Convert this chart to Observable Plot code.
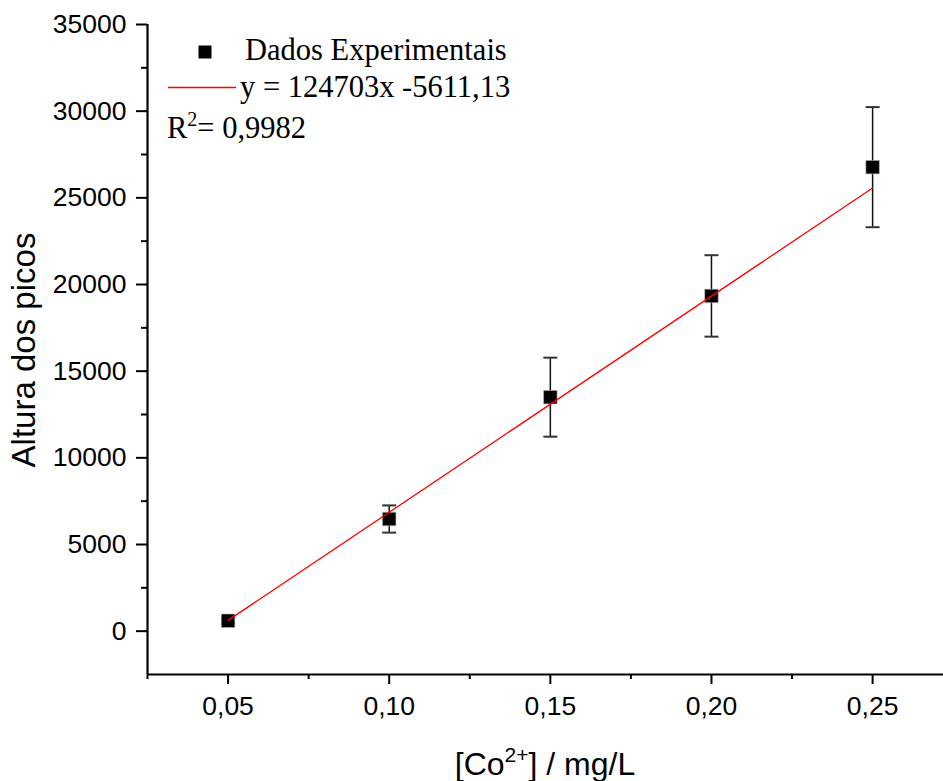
<!DOCTYPE html>
<html>
<head>
<meta charset="utf-8">
<script src="https://cdn.jsdelivr.net/npm/d3@7"></script>
<script src="https://cdn.jsdelivr.net/npm/@observablehq/plot@0.6"></script>
<style>
  html, body { margin: 0; padding: 0; background: #fff; }
  #chart svg { display: block; }
</style>
</head>
<body>
<div id="chart"></div>
<script>
// Data
const conc = [0.05, 0.10, 0.15, 0.20, 0.25];
const peakHeight = [600, 6470, 13500, 19340, 26770];
const peakError = [150, 785, 2280, 2350, 3465];
const fitX = [0.05, 0.25];
const fitY = [623, 25565];
const xTicks = [0.05, 0.10, 0.15, 0.20, 0.25];
const xMinorTicks = [0.025, 0.075, 0.125, 0.175, 0.225];
const yTicks = [0, 5000, 10000, 15000, 20000, 25000, 30000, 35000];
const yMinorTicks = [2500, 7500, 12500, 17500, 22500, 27500, 32500];
const legendLabel = "Dados Experimentais";
const fitLabel = "y = 124703x -5611,13";
const r2Label = "0,9982";

const data = conc.map((c, i) => ({x: c, y: peakHeight[i], lo: peakHeight[i] - peakError[i], hi: peakHeight[i] + peakError[i]}));
const fit = fitX.map((x, i) => ({x, y: fitY[i]}));

const capSymbol = { draw(ctx) { ctx.moveTo(-7, 0); ctx.lineTo(7, 0); } };
const squareSymbol = { draw(ctx) { ctx.rect(-6.75, -6.75, 13.5, 13.5); } };

const chart = Plot.plot({
  width: 943,
  height: 781,
  marginLeft: 147,
  marginRight: 0,
  marginTop: 24,
  marginBottom: 107,
  style: {fontFamily: "'Liberation Sans', Arial, sans-serif", fontSize: "26.5px", background: "#fff", color: "#000"},
  x: {domain: [0.025, 0.272]},
  y: {domain: [-2500, 35000]},
  marks: [
    Plot.axisX({ticks: xTicks, tickSize: 10, tickPadding: 12, strokeWidth: 2, fontSize: 26.5,
      tickFormat: d => d.toFixed(2).replace(".", ","), label: null}),
    Plot.axisX({ticks: xMinorTicks, tickSize: 5, strokeWidth: 2, tickFormat: () => "", label: null}),
    Plot.axisY({ticks: yTicks, tickSize: 11, tickPadding: 10, strokeWidth: 2, fontSize: 26.5,
      tickFormat: d => String(d), label: null}),
    Plot.axisY({ticks: yMinorTicks, tickSize: 6, strokeWidth: 2, tickFormat: () => "", label: null}),
    Plot.ruleY([-2500], {stroke: "#000", strokeWidth: 2.2}),
    Plot.ruleX([0.025], {stroke: "#000", strokeWidth: 2.2}),
    Plot.ruleX(data, {x: "x", y1: "lo", y2: "hi", stroke: "#111", strokeWidth: 1.5}),
    Plot.dot(data, {x: "x", y: "hi", symbol: capSymbol, stroke: "#333", strokeWidth: 2, fill: "none"}),
    Plot.dot(data, {x: "x", y: "lo", symbol: capSymbol, stroke: "#333", strokeWidth: 2, fill: "none"}),
    Plot.dot(data, {x: "x", y: "y", symbol: squareSymbol, fill: "#000", stroke: "#bbb", strokeWidth: 0.6}),
    Plot.line(fit, {x: "x", y: "y", stroke: "#ff0000", strokeWidth: 1.3})
  ]
});

document.getElementById("chart").appendChild(chart);

const svg = d3.select(chart);
// Legend
const lg = svg.append("g").attr("font-family", "'Liberation Serif', 'Times New Roman', serif")
  .attr("font-size", 30.5).attr("fill", "#000").attr("text-anchor", "start");
lg.append("rect").attr("x", 198.5).attr("y", 45.5).attr("width", 13).attr("height", 13).attr("fill", "#000");
lg.append("text").attr("x", 245).attr("y", 60).text(legendLabel);
lg.append("line").attr("x1", 168).attr("x2", 236).attr("y1", 87.5).attr("y2", 87.5).attr("stroke", "#ff0000").attr("stroke-width", 1.3);
lg.append("text").attr("x", 240).attr("y", 97).text(fitLabel);
const r2 = lg.append("text").attr("x", 167).attr("y", 138);
r2.append("tspan").text("R");
r2.append("tspan").attr("dy", -12).attr("font-size", 20).text("2");
r2.append("tspan").attr("dy", 12).text("= " + r2Label);

// Axis titles
const xl = svg.append("text").attr("x", 545).attr("y", 775).attr("text-anchor", "middle")
  .attr("font-family", "'Liberation Sans', Arial, sans-serif").attr("font-size", 32).attr("fill", "#000");
xl.append("tspan").text("[Co");
xl.append("tspan").attr("dy", -13).attr("font-size", 21).text("2+");
xl.append("tspan").attr("dy", 13).text("] / mg/L");

svg.append("text").attr("transform", "translate(35,350) rotate(-90)").attr("text-anchor", "middle")
  .attr("font-family", "'Liberation Sans', Arial, sans-serif").attr("font-size", 33).attr("fill", "#000")
  .text("Altura dos picos");
</script>
</body>
</html>
